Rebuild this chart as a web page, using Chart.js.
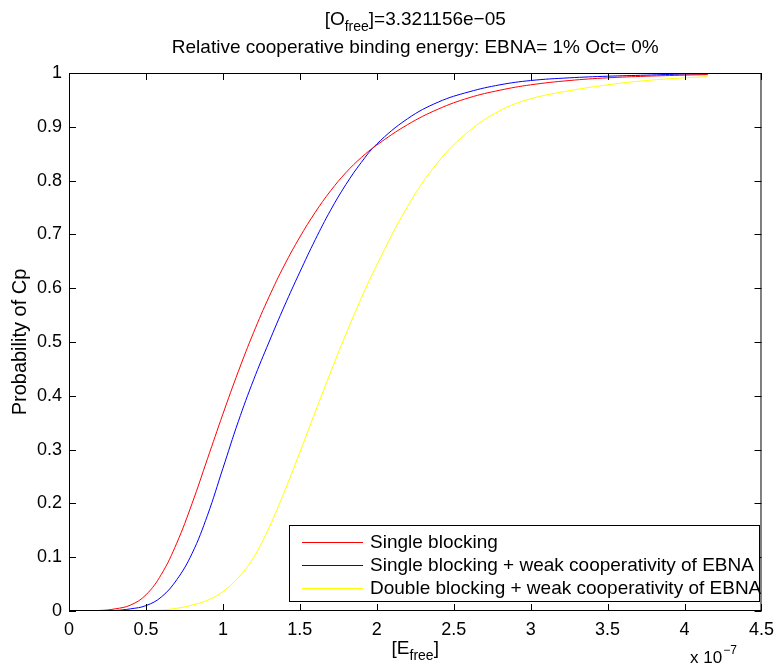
<!DOCTYPE html>
<html>
<head>
<meta charset="utf-8">
<script src="https://cdn.jsdelivr.net/npm/chart.js@4"></script>
<style>
  body { margin: 0; background: #fff; }
  #wrap { width: 782px; height: 666px; }
</style>
</head>
<body>
<div id="wrap"><canvas id="chart" width="782" height="666"></canvas></div>
<script>
// [E_free] in units of 1e-7
const xValues = [0, 0.2, 0.3, 0.4, 0.5, 0.6, 0.7, 0.8, 0.9, 1.0, 1.1, 1.2, 1.3, 1.4, 1.5,
  1.6, 1.7, 1.8, 1.9, 2.0, 2.2, 2.4, 2.6, 2.8, 3.0, 3.25, 3.5, 3.75, 4.0, 4.15];

// Probability of Cp
const singleBlocking = [0, 0.001, 0.004, 0.011, 0.03, 0.068, 0.126, 0.2, 0.283, 0.366, 0.445, 0.518,
  0.584, 0.643, 0.695, 0.741, 0.781, 0.815, 0.843, 0.866, 0.904, 0.933, 0.954, 0.968, 0.978,
  0.986, 0.991, 0.994, 0.996, 0.997];
const singleWeakCoop = [0, 0.0003, 0.001, 0.004, 0.01, 0.026, 0.058, 0.107, 0.178, 0.265, 0.352, 0.43,
  0.5, 0.567, 0.63, 0.69, 0.745, 0.793, 0.834, 0.868, 0.915, 0.946, 0.965, 0.978, 0.986,
  0.991, 0.994, 0.996, 0.998, 0.998];
const doubleWeakCoop = [0, 0, 0, 0.0005, 0.001, 0.002, 0.005, 0.011, 0.02, 0.036, 0.062, 0.1,
  0.155, 0.222, 0.295, 0.37, 0.444, 0.515, 0.582, 0.643, 0.752, 0.835, 0.892, 0.93, 0.952,
  0.967, 0.978, 0.986, 0.991, 0.993];

const seriesNames = ["Single blocking", "Single blocking + weak cooperativity of EBNA",
  "Double blocking + weak cooperativity of EBNA"];
const seriesColors = ["#ff0000", "#0000ff", "#ffff00"];

const xTickStep = 0.5;
const yTickStep = 0.1;

const FONT = '"Liberation Sans", Arial, Helvetica, sans-serif';

function toPoints(ys) {
  return xValues.map((x, i) => ({ x: x, y: ys[i] }));
}

// draws text pieces [text, size, dy] side by side, centred on cx
function drawParts(ctx, parts, cx, y) {
  let w = 0;
  parts.forEach(p => { ctx.font = p[1] + "px " + FONT; w += ctx.measureText(p[0]).width; });
  let x = cx - w / 2;
  parts.forEach(p => {
    ctx.font = p[1] + "px " + FONT;
    ctx.fillText(p[0], x, y + p[2]);
    x += ctx.measureText(p[0]).width;
  });
}

// title, axis labels with subscripts, legend box, inward ticks
const decorPlugin = {
  id: "decor",
  afterDraw(chart) {
    const ctx = chart.ctx;
    const a = chart.chartArea;
    const xs = chart.scales.x;
    const ys = chart.scales.y;
    const cx = (a.left + a.right) / 2;
    ctx.save();
    ctx.fillStyle = "#000";
    ctx.textBaseline = "alphabetic";
    ctx.textAlign = "left";

    // title
    drawParts(ctx, [["[O", 19, 0], ["free", 14, 6], ["]=3.321156e\u221205", 19, 0]], cx, 25);
    ctx.font = "19px " + FONT;
    ctx.textAlign = "center";
    ctx.fillText("Relative cooperative binding energy: EBNA= 1% Oct= 0%", cx, 53);

    // x label [E_free]
    ctx.textAlign = "left";
    drawParts(ctx, [["[E", 19, 0], ["free", 14, 6], ["]", 19, 0]], cx, 654);

    // exponent x 10^-7
    ctx.font = "17px " + FONT;
    ctx.fillText("x 10", 690, 663);
    const ew = ctx.measureText("x 10").width;
    ctx.font = "12px " + FONT;
    ctx.fillText("\u22127", 690 + ew + 1, 654);

    // y label
    ctx.save();
    ctx.translate(26, (a.top + a.bottom) / 2);
    ctx.rotate(-Math.PI / 2);
    ctx.textAlign = "center";
    ctx.font = "20px " + FONT;
    ctx.fillText("Probability of Cp", 0, 0);
    ctx.restore();

    // axes box and inward ticks
    ctx.strokeStyle = "#000";
    ctx.lineWidth = 1;
    ctx.strokeRect(a.left + 0.5, a.top + 0.5, a.right - a.left - 1, a.bottom - a.top - 1);
    ctx.beginPath();
    xs.ticks.forEach(t => {
      const px = Math.round(xs.getPixelForValue(t.value)) + 0.5;
      ctx.moveTo(px, a.bottom); ctx.lineTo(px, a.bottom - 7);
      ctx.moveTo(px, a.top); ctx.lineTo(px, a.top + 7);
    });
    ys.ticks.forEach(t => {
      const py = Math.round(ys.getPixelForValue(t.value)) + 0.5;
      ctx.moveTo(a.left, py); ctx.lineTo(a.left + 7, py);
      ctx.moveTo(a.right, py); ctx.lineTo(a.right - 7, py);
    });
    ctx.stroke();

    // legend
    const lx = 289, ly = 525, lw = 470, lh = 76;
    ctx.fillStyle = "#fff";
    ctx.fillRect(lx, ly, lw, lh);
    ctx.strokeRect(lx + 0.5, ly + 0.5, lw, lh);
    ctx.font = "19px " + FONT;
    ctx.textBaseline = "middle";
    seriesNames.forEach((name, i) => {
      const ry = ly + 17 + i * 23;
      ctx.strokeStyle = seriesColors[i];
      ctx.beginPath();
      ctx.moveTo(302, ry + 0.5); ctx.lineTo(363, ry + 0.5);
      ctx.stroke();
      ctx.fillStyle = "#000";
      ctx.fillText(name, 370, ry + 1);
    });
    ctx.restore();
  }
};

new Chart(document.getElementById("chart"), {
  type: "line",
  data: {
    datasets: [singleBlocking, singleWeakCoop, doubleWeakCoop].map((ys, i) => ({
      label: seriesNames[i],
      data: toPoints(ys),
      borderColor: seriesColors[i],
      borderWidth: 1,
      pointRadius: 0,
      fill: false,
      tension: 0.4
    }))
  },
  options: {
    responsive: false,
    animation: false,
    layout: { padding: { left: 0, top: 73, right: 15, bottom: 0 } },
    plugins: { legend: { display: false }, title: { display: false }, tooltip: { enabled: false } },
    scales: {
      x: {
        type: "linear",
        min: 0,
        max: 4.5,
        afterFit: s => { s.height = 55; },
        grid: { display: false, drawTicks: false },
        border: { display: false },
        ticks: {
          stepSize: xTickStep,
          padding: 8,
          color: "#000",
          font: { family: FONT, size: 18 },
          callback: v => String(+v.toFixed(1))
        }
      },
      y: {
        min: 0,
        max: 1,
        afterFit: s => { s.width = 69; },
        grid: { display: false, drawTicks: false },
        border: { display: false },
        ticks: {
          stepSize: yTickStep,
          padding: 7,
          color: "#000",
          font: { family: FONT, size: 18 },
          callback: v => String(+v.toFixed(1))
        }
      }
    }
  },
  plugins: [decorPlugin]
});
</script>
</body>
</html>
